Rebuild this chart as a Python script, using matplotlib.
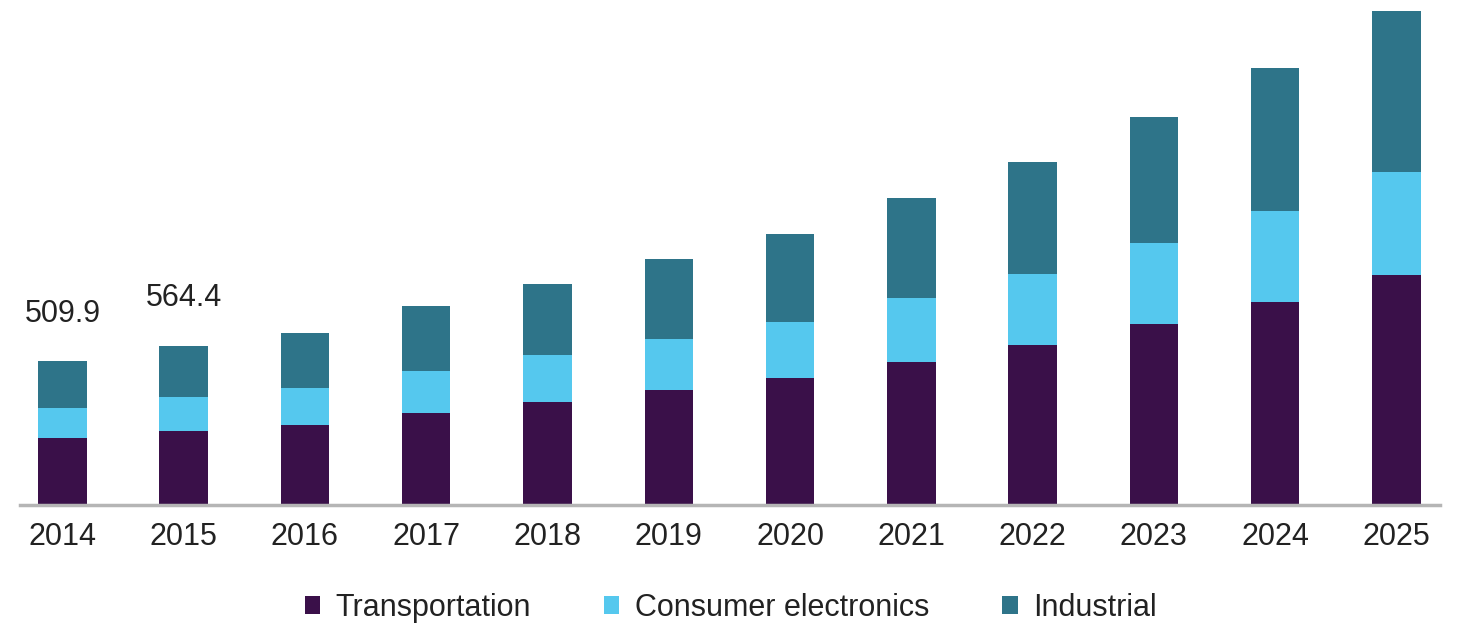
import matplotlib
matplotlib.use("Agg")
import matplotlib.pyplot as plt
import numpy as np

years = ["2014", "2015", "2016", "2017", "2018", "2019", "2020", "2021", "2022", "2023", "2024", "2025"]
transportation = [237.3, 263.4, 283.2, 326.7, 365.7, 407.1, 448.5, 507.3, 566.4, 639.3, 720.0, 815.6]
consumer_electronics = [106.8, 119.4, 129.9, 148.7, 165.3, 179.5, 200.4, 226.6, 250.3, 288.2, 319.0, 363.9]
industrial = [165.8, 181.6, 196.8, 229.0, 251.3, 283.2, 310.5, 351.9, 397.5, 444.3, 506.6, 571.0]
label_years = ["2014", "2015"]
label_texts = ["509.9", "564.4"]

series_names = ["Transportation", "Consumer electronics", "Industrial"]
colors = ["#3A1049", "#55C8EE", "#2E7489"]

plt.rcParams['font.family'] = ['Liberation Sans', 'DejaVu Sans']

fig = plt.figure(figsize=(14.61, 6.28), dpi=100)
ax = fig.add_axes([0.0137, 0.196, 0.9719, 0.796])

x = np.arange(len(years))
t = np.array(transportation)
c = np.array(consumer_electronics)
i = np.array(industrial)
w = 0.4
ax.bar(x, t, w, color=colors[0], label=series_names[0])
ax.bar(x, c, w, bottom=t, color=colors[1], label=series_names[1])
ax.bar(x, i, w, bottom=t + c, color=colors[2], label=series_names[2])

totals = t + c + i
for yr, txt in zip(label_years, label_texts):
    k = years.index(yr)
    ax.annotate(txt, (x[k], totals[k]), xytext=(0, 34), textcoords='offset points',
                ha='center', va='center', fontsize=22, color='#222222')

ax.set_xlim(-0.35, 11.36)
ax.set_ylim(0, 1770)
ax.set_xticks(x)
ax.set_xticklabels(years, fontsize=22, color='#222222')
ax.tick_params(axis='x', length=0, pad=12)
ax.set_yticks([])
for s in ['top', 'right', 'left']:
    ax.spines[s].set_visible(False)
ax.spines['bottom'].set_color('#b5b5b5')
ax.spines['bottom'].set_linewidth(2.5)

fig.legend(loc='center', bbox_to_anchor=(0.5, 0.032), ncol=3, frameon=False,
           fontsize=22, handlelength=0.5, handleheight=0.5, handletextpad=0.5,
           columnspacing=2.4, labelcolor='#222222')

fig.savefig("out.png", dpi=100, facecolor='white')
